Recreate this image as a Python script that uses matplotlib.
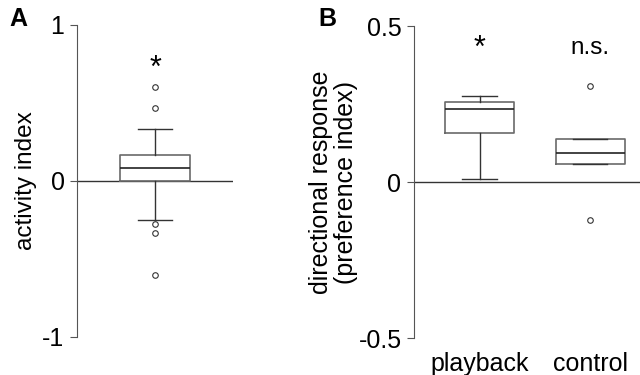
import matplotlib
matplotlib.use("Agg")
import matplotlib.pyplot as plt

plt.rcParams['font.family'] = ['Liberation Sans', 'DejaVu Sans']

# panel A: activity index
a_med = 0.083
a_q1 = 0.0
a_q3 = 0.167
a_whislo = -0.25
a_whishi = 0.333
a_fliers = [0.60, 0.466, -0.274, -0.331, -0.60]

# panel B: directional response
b_labels = ['playback', 'control']
b_med = [0.234, 0.092]
b_q1 = [0.158, 0.058]
b_q3 = [0.257, 0.137]
b_whislo = [0.009, 0.058]
b_whishi = [0.277, 0.137]
b_fliers = [[], [0.308, -0.122]]
b_marks = ['*', 'n.s.']

fig = plt.figure(figsize=(6.4, 3.75), dpi=100)

boxc = '#6a6a6a'
style = dict(boxprops=dict(color=boxc, lw=1.2),
             whiskerprops=dict(color='#333333', lw=1.0),
             capprops=dict(color='#333333', lw=1.0),
             medianprops=dict(color='#222222', lw=1.2),
             flierprops=dict(marker='o', markersize=4, markerfacecolor='none',
                             markeredgecolor='#333333', markeredgewidth=0.8))


def setup(ax):
    for s in ['top', 'right', 'bottom']:
        ax.spines[s].set_visible(False)
    ax.spines['left'].set_color('#555555')
    ax.tick_params(axis='y', direction='out', length=5, color='#555555',
                   labelsize=18, pad=4)
    ax.tick_params(axis='x', length=0, labelsize=18, pad=10)
    ax.axhline(0, color='#333333', lw=1.0, zorder=0)


# ---- A
axA = fig.add_axes([77/640, 1-337/375, 156/640, 312/375])
statsA = [dict(med=a_med, q1=a_q1, q3=a_q3, whislo=a_whislo, whishi=a_whishi,
               fliers=a_fliers)]
axA.bxp(statsA, positions=[1], widths=0.885, showfliers=True, **style)
axA.set_xlim(0, 2)
axA.set_ylim(-1, 1)
axA.set_yticks([-1, 0, 1])
axA.set_yticklabels(['-1', '0', '1'])
axA.set_xticks([])
setup(axA)
axA.set_ylabel('activity index', fontsize=17.5, labelpad=4)
axA.text(1, 0.72, '*', ha='center', va='center', fontsize=22)
fig.text(9/640, 1-19/375, 'A', fontsize=18, fontweight='bold', va='center')

# ---- B
axB = fig.add_axes([414/640, 1-338/375, 226/640, 312/375])
statsB = []
for i in range(len(b_labels)):
    statsB.append(dict(med=b_med[i], q1=b_q1[i], q3=b_q3[i],
                       whislo=b_whislo[i], whishi=b_whishi[i],
                       fliers=b_fliers[i]))
axB.bxp(statsB, positions=[1, 2], widths=0.624, showfliers=True, **style)
axB.set_xlim(0.407, 2.452)
axB.set_ylim(-0.5, 0.5)
axB.set_yticks([-0.5, 0, 0.5])
axB.set_yticklabels(['-0.5', '0', '0.5'])
axB.set_xticks([1, 2])
axB.set_xticklabels(b_labels)
setup(axB)
axB.set_ylabel('directional response\n(preference index)', fontsize=18,
               labelpad=0.5, linespacing=1.05)
axB.text(1, 0.425, b_marks[0], ha='center', va='center', fontsize=22)
axB.text(2, 0.43, b_marks[1], ha='center', va='center', fontsize=17.5)
fig.text(318/640, 1-19/375, 'B', fontsize=18, fontweight='bold', va='center')

fig.savefig('out.png', dpi=100)
